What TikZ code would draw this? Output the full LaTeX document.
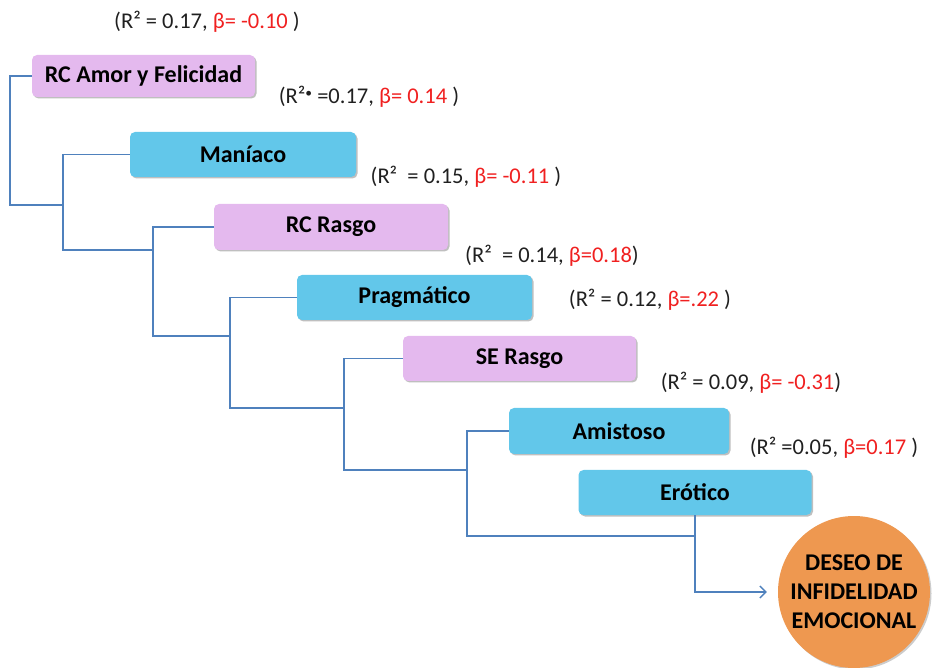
\documentclass[tikz,border=0pt]{standalone}
\usepackage{fontspec}
\setmainfont{Carlito}
\usetikzlibrary{arrows.meta,shadows,calc}
\definecolor{pinkbox}{HTML}{E4B9EE}
\definecolor{bluebox}{HTML}{62C7EA}
\definecolor{conncol}{HTML}{4F81BD}
\definecolor{orangec}{HTML}{EE9850}
\definecolor{redtxt}{HTML}{F02020}
\definecolor{dtxt}{HTML}{202020}
\newcommand{\smdot}{\raisebox{0.55ex}{\scalebox{0.6}{•}}}
\begin{document}
\begin{tikzpicture}[x=1pt,y=-1pt,
  boxbase/.style={rounded corners=5pt, minimum height=45pt, inner sep=0pt,
    font=\fontsize{24}{26}\selectfont\bfseries, text=black,
    drop shadow={shadow xshift=1.5pt, shadow yshift=-1.5pt, opacity=0.25, fill=black}},
  pinkb/.style={boxbase, fill=pinkbox},
  blueb/.style={boxbase, fill=bluebox},
  conn/.style={draw=conncol, line width=1.4pt},
  lab/.style={font=\fontsize{22.5}{24}\selectfont, text=dtxt, inner sep=0pt},
]
\useasboundingbox (0,0) rectangle (938,668);

\node[pinkb, minimum width=223pt, minimum height=42pt] (amor) at (143.5,76) {RC Amor y Felicidad};
\node[blueb, minimum width=226pt] (mania) at (243,154.5) {Maníaco};
\node[pinkb, minimum width=234pt, minimum height=46pt] (rcr) at (331,227) {RC Rasgo};
\node[blueb, minimum width=235pt] (prag) at (414.5,297.5) {Pragmático};
\node[pinkb, minimum width=233pt] (se) at (519.5,358.5) {SE Rasgo};
\node[blueb, minimum width=220pt, minimum height=46pt] (amis) at (619,431) {Amistoso};
\node[blueb, minimum width=233pt] (ero) at (695,492.5) {Erótico};

\node[circle, fill=orangec, minimum size=152pt, inner sep=0pt, align=center,
  font=\fontsize{24}{29}\selectfont\bfseries, text=black,
  drop shadow={shadow xshift=1.5pt, shadow yshift=-1.5pt, opacity=0.2, fill=black}]
  (deseo) at (854,592) {DESEO DE\\INFIDELIDAD\\EMOCIONAL};

\coordinate (j1) at (63,205);
\coordinate (j2) at (153,250);
\coordinate (j3) at (230,336);
\coordinate (j4) at (344,408);
\coordinate (j5) at (467,470);
\coordinate (j6) at (ero.south |- 0,536);

\draw[conn] (amor.west) -- ++(-22,0) |- (j1);
\draw[conn] (mania.west) -- ++(-67,0) |- (j2);
\draw[conn] (rcr.west) -- ++(-61,0) |- (j3);
\draw[conn] (prag.west) -- ++(-67,0) |- (j4);
\draw[conn] (se.west) -- ++(-59,0) |- (j5);
\draw[conn] (amis.west) -- ++(-42,0) |- (j6);
\draw[conn, -{Straight Barb[length=6pt,width=12pt,line width=1.4pt]}, shorten >=11pt] (ero.south) |- (deseo.west);

\node[lab] (l1) at (207,22) {(R² = 0.17, \textcolor{redtxt}{β= -0.10} )};
\node[lab] (l2) at (369,97) {(R²\smdot\ =0.17, \textcolor{redtxt}{β= 0.14} )};
\node[lab] (l3) at (466,177) {(R²\ \ = 0.15, \textcolor{redtxt}{β= -0.11} )};
\node[lab] (l4) at (552,256) {(R²\ \ = 0.14, \textcolor{redtxt}{β=0.18})};
\node[lab] (l5) at (650,300) {(R² = 0.12, \textcolor{redtxt}{β=.22} )};
\node[lab] (l6) at (751,383) {(R² = 0.09, \textcolor{redtxt}{β= -0.31})};
\node[lab] (l7) at (834,448) {(R² =0.05, \textcolor{redtxt}{β=0.17} )};
\end{tikzpicture}
\end{document}
